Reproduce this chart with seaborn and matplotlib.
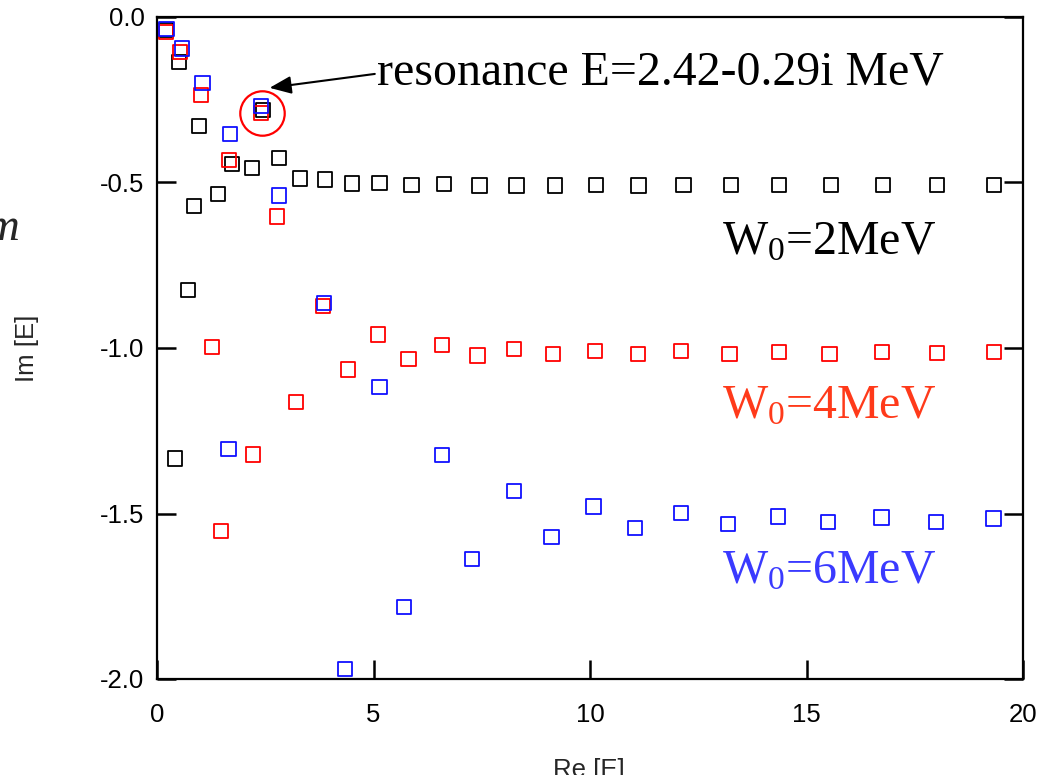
import matplotlib
matplotlib.use("Agg")
import matplotlib.pyplot as plt
import seaborn as sns
import pandas as pd
from matplotlib.ticker import FormatStrFormatter, FixedLocator

# Complex-energy eigenvalues Re[E], Im[E] (MeV) for three absorption strengths W0
w2_re = [0.21, 0.42, 0.51, 0.71, 0.85, 0.97, 1.40, 1.73, 2.19, 2.44, 2.81, 3.30, 3.88,
         4.50, 5.14, 5.88, 6.62, 7.45, 8.30, 9.20, 10.13, 11.12, 12.16, 13.26, 14.37,
         15.57, 16.77, 18.02, 19.33]
w2_im = [-0.040, -1.334, -0.135, -0.825, -0.570, -0.330, -0.535, -0.443, -0.457, -0.280,
         -0.425, -0.488, -0.491, -0.503, -0.501, -0.507, -0.505, -0.509, -0.509, -0.509,
         -0.508, -0.509, -0.507, -0.507, -0.507, -0.507, -0.507, -0.507, -0.507]

w4_re = [0.21, 0.54, 1.01, 1.27, 1.48, 1.67, 2.22, 2.41, 2.78, 3.21, 3.84, 4.41, 5.11,
         5.81, 6.59, 7.40, 8.25, 9.15, 10.11, 11.10, 12.11, 13.22, 14.36, 15.53, 16.75,
         18.02, 19.33]
w4_im = [-0.045, -0.106, -0.236, -0.998, -1.552, -0.431, -1.322, -0.290, -0.603, -1.164,
         -0.873, -1.065, -0.959, -1.034, -0.990, -1.023, -1.003, -1.018, -1.009, -1.019,
         -1.009, -1.017, -1.013, -1.017, -1.013, -1.015, -1.013]

w6_re = [0.22, 0.57, 1.05, 1.65, 1.68, 2.40, 2.81, 3.85, 4.35, 5.14, 5.70, 6.59, 7.28,
         8.24, 9.11, 10.08, 11.04, 12.11, 13.18, 14.34, 15.49, 16.73, 17.99, 19.32]
w6_im = [-0.037, -0.095, -0.200, -1.306, -0.354, -0.270, -0.539, -0.864, -1.970, -1.117,
         -1.782, -1.324, -1.638, -1.433, -1.570, -1.479, -1.543, -1.499, -1.532, -1.509,
         -1.526, -1.512, -1.525, -1.515]

series_labels = ["W$_{0}$=2MeV", "W$_{0}$=4MeV", "W$_{0}$=6MeV"]
resonance_re, resonance_im = 2.42, -0.29
resonance_text = "resonance E=2.42-0.29i MeV"

x_ticks = [0, 5, 10, 15, 20]
y_ticks = [0.0, -0.5, -1.0, -1.5, -2.0]

sns.set_style("white")
plt.rcParams["font.family"] = ["Liberation Sans", "DejaVu Sans"]
plt.rcParams["axes.unicode_minus"] = False
plt.rcParams["mathtext.fontset"] = "custom"
plt.rcParams["mathtext.rm"] = "Liberation Serif"
plt.rcParams["mathtext.it"] = "Liberation Serif:italic"
plt.rcParams["xtick.bottom"] = True
plt.rcParams["ytick.left"] = True
plt.rcParams["ytick.right"] = True

fig = plt.figure(figsize=(10.45, 7.75), dpi=100)
ax = fig.add_axes([157 / 1045, 1 - 679 / 775, (1023 - 157) / 1045, (679 - 17) / 775])

marker_colors = ["#000000", "#ff0000", "#1010ff"]
label_colors = ["#000000", "#ff3a1a", "#3a3aff"]
frames = [pd.DataFrame({"re": r, "im": i}) for r, i in
          [(w2_re, w2_im), (w4_re, w4_im), (w6_re, w6_im)]]

for df, c in zip(frames, marker_colors):
    sns.scatterplot(data=df, x="re", y="im", ax=ax, marker="s", s=105,
                    color=c, facecolor="none", edgecolor=c, linewidth=1.3,
                    legend=False, clip_on=False, zorder=3)

# circle around the resonance pole
ax.plot([resonance_re], [resonance_im], marker="o", markersize=32,
        markerfacecolor="none", markeredgecolor="#ff0000", markeredgewidth=1.6,
        linestyle="none", zorder=4)

ax.set_xlim(0, 20)
ax.set_ylim(-2.0, 0.0)
ax.xaxis.set_major_locator(FixedLocator(x_ticks))
ax.yaxis.set_major_locator(FixedLocator(y_ticks))
ax.yaxis.set_major_formatter(FormatStrFormatter("%.1f"))
ax.yaxis.set_ticks_position("both")
ax.xaxis.set_ticks_position("bottom")
ax.tick_params(axis="both", direction="in", length=14, width=1.8, colors="black",
               labelsize=18.5)
ax.tick_params(axis="y", labelleft=True, labelright=False, pad=9)
ax.tick_params(axis="x", pad=17)
for sp in ax.spines.values():
    sp.set_visible(True)
    sp.set_color("black")
    sp.set_linewidth(1.6)
ax.set_xlabel("")
ax.set_ylabel("")

# series labels
label_y = [-0.718, -1.212, -1.710]
for lab, ly, c in zip(series_labels, label_y, label_colors):
    ax.text(17.99, ly, lab, ha="right", va="baseline", fontsize=34.5,
            family="Liberation Serif", color=c)

# resonance annotation
ax.annotate("", xy=(2.60, -0.214), xytext=(5.03, -0.172),
            arrowprops=dict(arrowstyle="-|>,head_length=1.1,head_width=0.45",
                            color="black", lw=1.5, shrinkA=0, shrinkB=0,
                            mutation_scale=12))
ax.text(5.07, -0.205, resonance_text, ha="left", va="baseline", fontsize=34.5,
        family="Liberation Serif", color="black")

# axis titles
fig.text(27 / 1045, 1 - 348 / 775, "Im [E]", rotation=90, ha="center", va="center",
         fontsize=18.5)
fig.text(589 / 1045, 1 - 777 / 775, "Re [E]", ha="center", va="baseline", fontsize=18.5)
fig.text(20 / 1045, 1 - 240 / 775, "Im", ha="right", va="baseline", fontsize=34,
         family="Liberation Serif", style="italic")

fig.savefig("out.png", dpi=100)
